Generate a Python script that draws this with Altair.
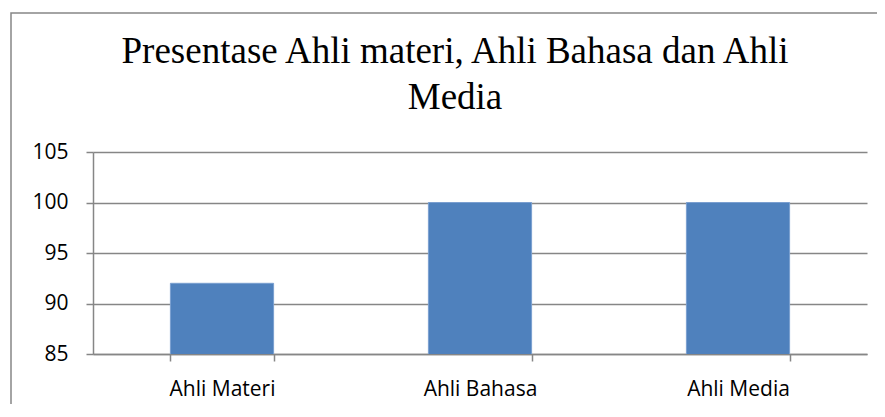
import altair as alt
import pandas as pd

categories = ["Ahli Materi", "Ahli Bahasa", "Ahli Media"]
values = [92, 100, 100]
y_ticks = [85, 90, 95, 100, 105]
title_lines = ["Presentase Ahli materi, Ahli Bahasa dan Ahli", "Media"]

df = pd.DataFrame({"kategori": categories, "nilai": values})

GRAY = "#868686"
LABEL_FONT = "Open Sans"
LABEL_SIZE = 21

bars = alt.Chart(df).mark_bar(
    color="#4F81BD", stroke="#7A9FD0", strokeWidth=1, clip=True
).encode(
    x=alt.X(
        "kategori:N",
        sort=categories,
        scale=alt.Scale(paddingInner=0.6, paddingOuter=0.3),
        axis=alt.Axis(
            title=None, labelAngle=0, labelFont=LABEL_FONT,
            labelFontSize=LABEL_SIZE, labelColor="#000000", labelPadding=17,
            tickBand="extent", tickSize=7, tickColor=GRAY, domainColor=GRAY,
            domainWidth=1.5, tickWidth=1.5, grid=False,
        ),
    ),
    y=alt.Y(
        "nilai:Q",
        scale=alt.Scale(domain=[85, 105], zero=False, nice=False),
        axis=alt.Axis(
            title=None, values=y_ticks, labelFont=LABEL_FONT,
            labelFontSize=LABEL_SIZE, labelColor="#000000", labelPadding=18,
            tickSize=7, tickColor=GRAY, tickWidth=1.5, domainColor=GRAY,
            domainWidth=1.5, gridColor=GRAY, gridWidth=1.5,
        ),
    ),
)

frame = alt.Chart(pd.DataFrame({"f": [0]})).mark_rect(
    fill=None, stroke=GRAY, strokeWidth=1.5
).encode(
    x=alt.value(-82), x2=alt.value(820), y=alt.value(-139), y2=alt.value(300)
)

title = alt.Chart(pd.DataFrame({"t": [0]})).mark_text(
    text=title_lines, font="Liberation Serif", fontSize=37, color="#000000",
    align="center", baseline="alphabetic", lineHeight=46,
).encode(x=alt.value(362), y=alt.value(-89))

chart = alt.layer(frame, title, bars).properties(
    width=774,
    height=202,
    autosize=alt.AutoSizeParams(type="none"),
    padding={"left": 85, "top": 144, "right": 10, "bottom": 50},
).configure_view(stroke=None)

chart.save("out.html", embed_options={"renderer": "svg", "actions": False})
